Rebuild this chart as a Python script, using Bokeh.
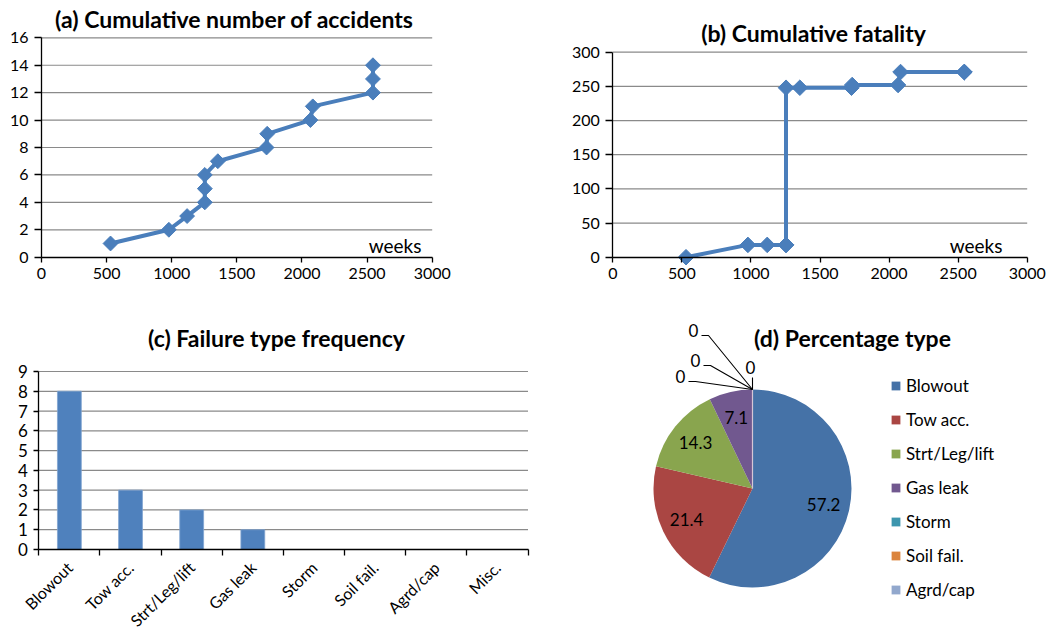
import math
from bokeh.plotting import figure
from bokeh.models import (Range1d, FixedTicker, Label, Legend, LegendItem, ColumnDataSource,
                          LinearAxis)
from bokeh.layouts import column, row
from bokeh.embed import file_html
from bokeh.resources import INLINE

# ---------------- data ----------------
weeks = [530, 978, 1118, 1254, 1254, 1254, 1354, 1728, 1733, 2065, 2083, 2545, 2545, 2545]
cum_accidents = [1, 2, 3, 4, 5, 6, 7, 8, 9, 10, 11, 12, 13, 14]
cum_fatality = [0, 18, 18, 18, 18, 248, 248, 248, 252, 252, 271, 271, 271, 271]

failure_types = ["Blowout", "Tow acc.", "Strt/Leg/lift", "Gas leak", "Storm", "Soil fail.", "Agrd/cap", "Misc."]
failure_freq = [8, 3, 2, 1, 0, 0, 0, 0]
failure_pct = [57.2, 21.4, 14.3, 7.1, 0, 0, 0, 0]

x_ticks = [0, 500, 1000, 1500, 2000, 2500, 3000]
acc_ticks = [0, 2, 4, 6, 8, 10, 12, 14, 16]
fat_ticks = [0, 50, 100, 150, 200, 250, 300]
freq_ticks = [0, 1, 2, 3, 4, 5, 6, 7, 8, 9]

# ---------------- styles ----------------
FONT = "Lato"
BLUE = "#4A7EBB"
BAR = "#4F81BD"
GRID = "#8A8A8A"
PIE_COLORS = ["#4572A7", "#AA4643", "#89A54E", "#71588F", "#3D96AE", "#DB843D", "#92A8CD", "#A47D7C"]


def lin(v0, s0, v1, s1):
    """page pixel -> data value along one axis"""
    k = (v1 - v0) / (s1 - s0)
    return lambda s: v0 + (s - s0) * k


def make_fig(box, fx, fy):
    ox, oy, w, h = box
    p = figure(width=w, height=h,
               x_range=Range1d(fx(ox), fx(ox + w)), y_range=Range1d(fy(oy + h), fy(oy)),
               output_backend="svg", toolbar_location=None, min_border=0,
               x_axis_location=None, y_axis_location=None)
    p.title.visible = False
    p.grid.visible = False
    p.outline_line_color = None
    p.background_fill_color = "white"
    p.border_fill_color = "white"
    return p


def style_axis(ax, fs):
    ax.axis_line_color = "#000000"
    ax.axis_line_width = 1.3
    ax.major_tick_line_color = "#000000"
    ax.major_tick_line_width = 1.3
    ax.major_tick_out = 5
    ax.major_tick_in = 0
    ax.minor_tick_line_color = None
    ax.major_label_text_font = FONT
    ax.major_label_text_font_size = fs
    ax.major_label_text_color = "#000000"
    ax.major_label_standoff = 6


def add_axes(p, xticks, yticks, xb, yb, fs):
    xa = LinearAxis(fixed_location=yb[0], bounds=xb, ticker=FixedTicker(ticks=xticks))
    ya = LinearAxis(fixed_location=xb[0], bounds=yb, ticker=FixedTicker(ticks=yticks))
    style_axis(xa, fs)
    style_axis(ya, fs)
    p.add_layout(xa, "below")
    p.add_layout(ya, "left")
    return xa, ya


def add_grid(p, xb, yticks):
    ys = [t for t in yticks if t != yticks[0]]
    p.segment(x0=[xb[0]] * len(ys), x1=[xb[1]] * len(ys), y0=ys, y1=ys,
              line_color=GRID, line_width=1.2)


def title(p, fx, fy, text, px, py, size="23px"):
    p.add_layout(Label(x=fx(px), y=fy(py), text=text, text_align="center", text_baseline="middle",
                       text_font=FONT, text_font_size=size, text_font_style="bold",
                       text_color="#000000"))


def weeks_label(p, fx, fy, px, py):
    p.add_layout(Label(x=fx(px), y=fy(py), text="weeks", text_align="right",
                       text_baseline="middle", text_font=FONT, text_font_size="19px",
                       text_color="#000000"))


# ---------------- (a) ----------------
fxa = lin(0, 41, 3000, 431.7)
fya = lin(0, 256.7, 16, 37.3)
pa = make_fig((0, 0, 530, 310), fxa, fya)
add_grid(pa, (0, 3000), acc_ticks)
xa_a, ya_a = add_axes(pa, x_ticks, acc_ticks, (0, 3000), (0, 16), "16px")
ya_a.major_tick_out = 7
pa.line(weeks, cum_accidents, line_color=BLUE, line_width=4)
pa.scatter(weeks, cum_accidents, marker="square", angle=math.pi / 4, size=10.5,
           fill_color=BLUE, line_color=BLUE)
title(pa, fxa, fya, "(a) Cumulative number of accidents", 234, 18)
weeks_label(pa, fxa, fya, 421, 245)

# ---------------- (b) ----------------
fxb = lin(0, 612.3, 3000, 1026.7)
fyb = lin(0, 256.7, 300, 51.7)
pb = make_fig((530, 0, 528, 310), fxb, fyb)
add_grid(pb, (0, 3000), fat_ticks)
xa_b, ya_b = add_axes(pb, x_ticks, fat_ticks, (0, 3000), (0, 300), "16px")
ya_b.major_tick_out = 7
pb.line(weeks, cum_fatality, line_color=BLUE, line_width=4)
pb.scatter(weeks, cum_fatality, marker="square", angle=math.pi / 4, size=11,
           fill_color=BLUE, line_color=BLUE)
title(pb, fxb, fyb, "(b) Cumulative fatality", 813, 32)
weeks_label(pb, fxb, fyb, 1002, 245)

# ---------------- (c) ----------------
n_types = len(failure_types)
bar_x = [i + 0.5 for i in range(n_types)]
fxc = lin(0, 38.3, n_types, 527.5)
fyc = lin(0, 549, 9, 371)
pc = make_fig((0, 310, 530, 323), fxc, fyc)
add_grid(pc, (0, n_types), freq_ticks)
pc.vbar(x=bar_x, top=failure_freq, width=0.39, fill_color=BAR, line_color="#7FA3D0", line_width=0.8)
xa, ya = add_axes(pc, bar_x, freq_ticks, (0, n_types), (0, 9), "16px")
xa.ticker = FixedTicker(ticks=bar_x, minor_ticks=list(range(n_types + 1)))
xa.major_label_overrides = {x: t for x, t in zip(bar_x, failure_types)}
xa.major_tick_out = 0
xa.minor_tick_out = 6
xa.minor_tick_in = 0
xa.minor_tick_line_color = "#000000"
xa.minor_tick_line_width = 1.3
xa.major_label_orientation = math.pi / 4
xa.major_label_standoff = 9
ya.major_label_text_font_size = "17px"
title(pc, fxc, fyc, "(c) Failure type frequency", 276, 337)

# ---------------- (d) ----------------
fxd = lin(0, 530, 1, 531)          # 1 data unit = 1 px
fyd = lin(0, 633, 1, 632)
pd_ = make_fig((530, 310, 528, 323), fxd, fyd)

CX, CY, R = fxd(752), fyd(488), 99          # pie centre / radius (px)
total = sum(failure_pct)
starts, ends, mids, radii = [], [], [], []
acc = 0.0
for v in failure_pct:
    a0 = math.pi / 2 - 2 * math.pi * acc / total
    acc += v
    a1 = math.pi / 2 - 2 * math.pi * acc / total
    starts.append(a0)
    ends.append(a1)
    mids.append((a0 + a1) / 2)
    radii.append(R if v > 0 else 0)

src = ColumnDataSource(dict(start=starts, end=ends, fill=PIE_COLORS[:len(failure_pct)],
                            r=radii, name=failure_types))
wr = pd_.wedge(x=CX, y=CY, radius="r", start_angle="start", end_angle="end", direction="clock",
               fill_color="fill", line_color=None, source=src)
# faint edge where the zero slices sit
pd_.segment(x0=[CX], y0=[CY], x1=[CX + R * math.cos(starts[4])], y1=[CY + R * math.sin(starts[4])],
            line_color="#D6C6D6", line_width=1.2)

# value labels for the non-zero slices
lab_r = 73
lx, ly, lt = [], [], []
for v, m in zip(failure_pct, mids):
    if v > 0:
        lx.append(CX + lab_r * math.cos(m))
        ly.append(CY + lab_r * math.sin(m))
        lt.append(f"{v:.1f}")
pd_.text(x=lx, y=ly, text=lt, text_align="center", text_baseline="middle",
         text_font={"value": FONT}, text_font_size="17px", text_color="#000000")

# zero-value labels with leader lines (label layout positions, page px)
zero_label_pos = [(693, 330), (695, 360), (680, 376), (750, 367)]
top_x, top_y = CX, CY + R
zx, zy, zt = [], [], []
lead_xs, lead_ys = [], []
for v, (px, py) in zip([v for v in failure_pct if v == 0], zero_label_pos):
    x, y = fxd(px), fyd(py)
    zx.append(x)
    zy.append(y)
    zt.append(f"{v:g}")
    if abs(x - CX) < 6:
        lead_xs.append([top_x, top_x])
        lead_ys.append([y - 10, top_y])
    else:
        lead_xs.append([x + 8, x + 15, top_x])
        lead_ys.append([y - 5, y - 5, top_y])
pd_.multi_line(xs=lead_xs, ys=lead_ys, line_color="#000000", line_width=1.1)
pd_.text(x=zx, y=zy, text=zt, text_align="center", text_baseline="middle",
         text_font={"value": FONT}, text_font_size="17px", text_color="#000000")

title(pd_, fxd, fyd, "(d) Percentage type", 852, 337)

legend = Legend(items=[LegendItem(label=failure_types[i], renderers=[wr], index=i) for i in range(7)],
                location=(360, 33), orientation="vertical",
                glyph_width=11, glyph_height=11, label_height=20, spacing=13, padding=0, margin=0,
                label_standoff=5, label_text_font=FONT, label_text_font_size="17px",
                label_text_color="#000000", border_line_color=None, background_fill_alpha=0)
pd_.add_layout(legend)

layout = column(row(pa, pb), row(pc, pd_))
open("out.html", "w").write(file_html(layout, INLINE))
